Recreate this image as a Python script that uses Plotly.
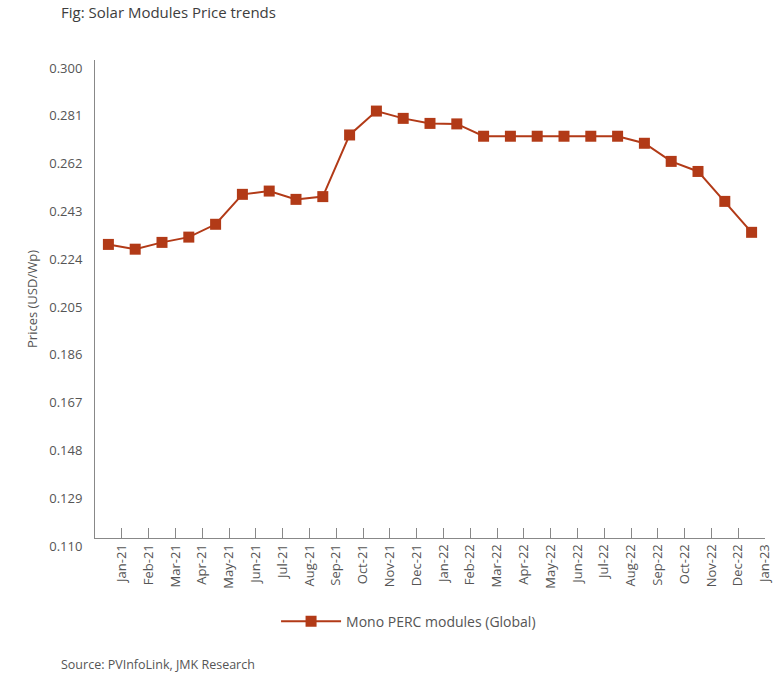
import plotly.graph_objects as go

months = ["Jan-21", "Feb-21", "Mar-21", "Apr-21", "May-21", "Jun-21", "Jul-21", "Aug-21",
          "Sep-21", "Oct-21", "Nov-21", "Dec-21", "Jan-22", "Feb-22", "Mar-22", "Apr-22",
          "May-22", "Jun-22", "Jul-22", "Aug-22", "Sep-22", "Oct-22", "Nov-22", "Dec-22", "Jan-23"]
prices = [0.2267, 0.2248, 0.2275, 0.2296, 0.2347, 0.2466, 0.2479, 0.2446, 0.2457, 0.2702,
          0.2797, 0.2768, 0.2748, 0.2746, 0.2697, 0.2697, 0.2697, 0.2697, 0.2697, 0.2697,
          0.2669, 0.2597, 0.2557, 0.2438, 0.2315]
y_ticks = [0.110, 0.129, 0.148, 0.167, 0.186, 0.205, 0.224, 0.243, 0.262, 0.281, 0.300]

series_name = "Mono PERC modules (Global)"
color = "#B23A17"
font_family = "Open Sans, Lato, sans-serif"

idx = list(range(len(months)))
fig = go.Figure()
fig.add_trace(go.Scatter(
    x=idx, y=prices, mode="lines+markers", name=series_name,
    line=dict(color=color, width=2),
    marker=dict(symbol="square", size=11, color=color),
    showlegend=True,
))

fig.update_layout(
    width=784, height=682,
    margin=dict(l=95, r=19, t=60, b=144),
    paper_bgcolor="white", plot_bgcolor="white",
    font=dict(family=font_family, color="#555555", size=12),
    showlegend=True,
    legend=dict(orientation="h", x=0.468, xanchor="center", y=-0.175, yanchor="middle",
                font=dict(size=14, color="#555555"), itemwidth=60),
)
fig.add_annotation(text="Fig: Solar Modules Price trends", xref="paper", yref="paper",
                   x=-0.053, y=1.1, xanchor="left", yanchor="middle", showarrow=False,
                   font=dict(size=15, color="#3d3d3d", family=font_family))
fig.add_annotation(text="Source: PVInfoLink, JMK Research", xref="paper", yref="paper",
                   x=-0.053, y=-0.264, xanchor="left", yanchor="middle", showarrow=False,
                   font=dict(size=12.5, color="#555555", family=font_family))

fig.update_xaxes(
    range=[-0.5, len(months) - 0.5],
    tickmode="array",
    tickvals=[i + 0.5 for i in idx],
    ticktext=months,
    tickangle=-90,
    ticks="inside", ticklen=10, tickcolor="#888888", tickwidth=1,
    showline=True, linecolor="#888888", linewidth=1,
    showgrid=False, zeroline=False,
    tickfont=dict(size=13, color="#555555"),
)
fig.update_yaxes(
    range=[0.110, 0.300],
    tickmode="array",
    tickvals=y_ticks,
    ticktext=[f"{v:.3f}" for v in y_ticks],
    ticks="", showline=True, linecolor="#888888", linewidth=1,
    showgrid=False, zeroline=False,
    ticklabelstandoff=9, ticklabelshift=8,
    tickfont=dict(size=13, color="#555555"),
    title=dict(text="Prices (USD/Wp)", standoff=8, font=dict(size=13, color="#555555")),
)

fig.write_html("out.html")
